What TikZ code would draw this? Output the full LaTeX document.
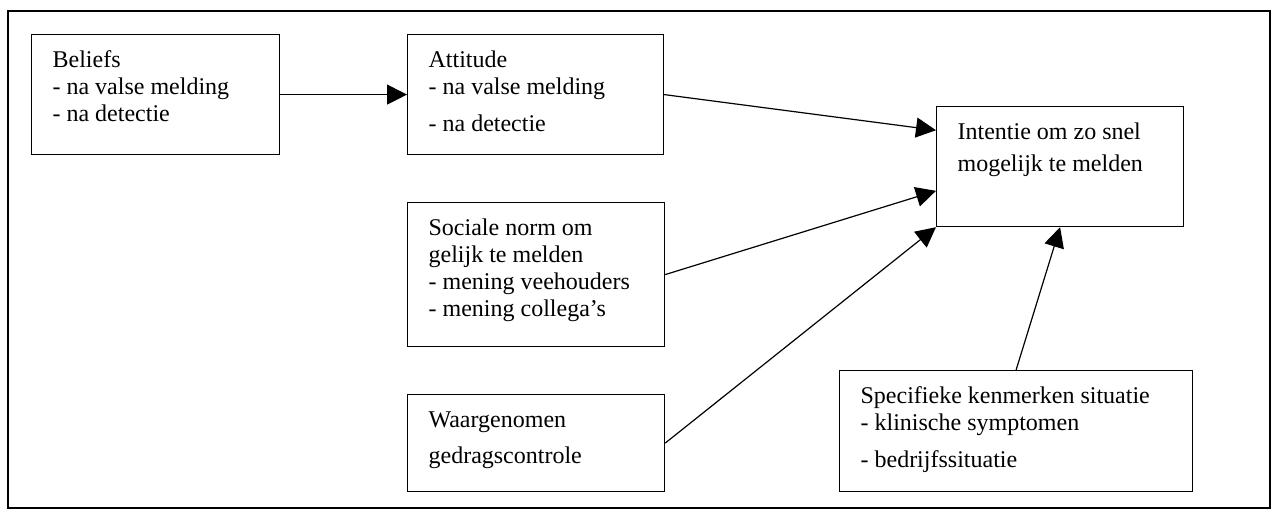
\documentclass[tikz,border=0pt]{standalone}
\usepackage{fontspec}
\setmainfont{Liberation Serif}
\usetikzlibrary{arrows.meta}
\usetikzlibrary{calc}
\tikzset{factor/.style={draw, line width=0.6pt, anchor=north west, inner xsep=10.5pt, inner ysep=7pt, font=\fontsize{12pt}{13.5pt}\selectfont}}
\tikzset{link/.style={line width=0.6pt, -{Triangle[length=10pt,width=10pt]}}}
\newcommand{\factortext}[3]{\parbox[c][#2][t]{#1}{\raggedright\strut #3}}

\begin{document}
\begin{tikzpicture}[x=0.5pt, y=-0.5pt]
\useasboundingbox (0, 0) rectangle (1276, 512);
\draw[line width=1.1pt] (8, 11) rectangle (1270, 508);
\node[factor] (beliefs) at (31, 34) {\factortext{103pt}{46pt}{Beliefs\\- na valse melding\\- na detectie}};
\node[factor] (attitude) at (407, 34) {\factortext{107pt}{46pt}{Attitude\\- na valse melding\\[5pt]- na detectie}};
\node[factor] (intentie) at (936, 106) {\factortext{102.5pt}{46pt}{Intentie om zo snel\\[2.5pt]mogelijk te melden}};
\node[factor] (sociale) at (407, 202) {\factortext{107.5pt}{58pt}{Sociale norm om\\gelijk te melden\\- mening veehouders\\- mening collega’s}};
\node[factor] (waargenomen) at (407, 394) {\factortext{107.5pt}{34.5pt}{Waargenomen\\[4.5pt]gedragscontrole}};
\node[factor] (specifieke) at (839, 370) {\factortext{155.5pt}{46.5pt}{Specifieke kenmerken situatie\\- klinische symptomen\\[5pt]- bedrijfssituatie}};
\draw[link] (beliefs.east) -- (attitude.west);
\draw[link] (attitude.east) -- ($(intentie.north west)!0.2!(intentie.south west)$);
\draw[link] (sociale.east) -- ($(intentie.north west)!0.7!(intentie.south west)$);
\draw[link] (waargenomen.east) -- (intentie.south west);
\draw[link] (specifieke.north) -- (intentie.south);
\end{tikzpicture}
\end{document}
